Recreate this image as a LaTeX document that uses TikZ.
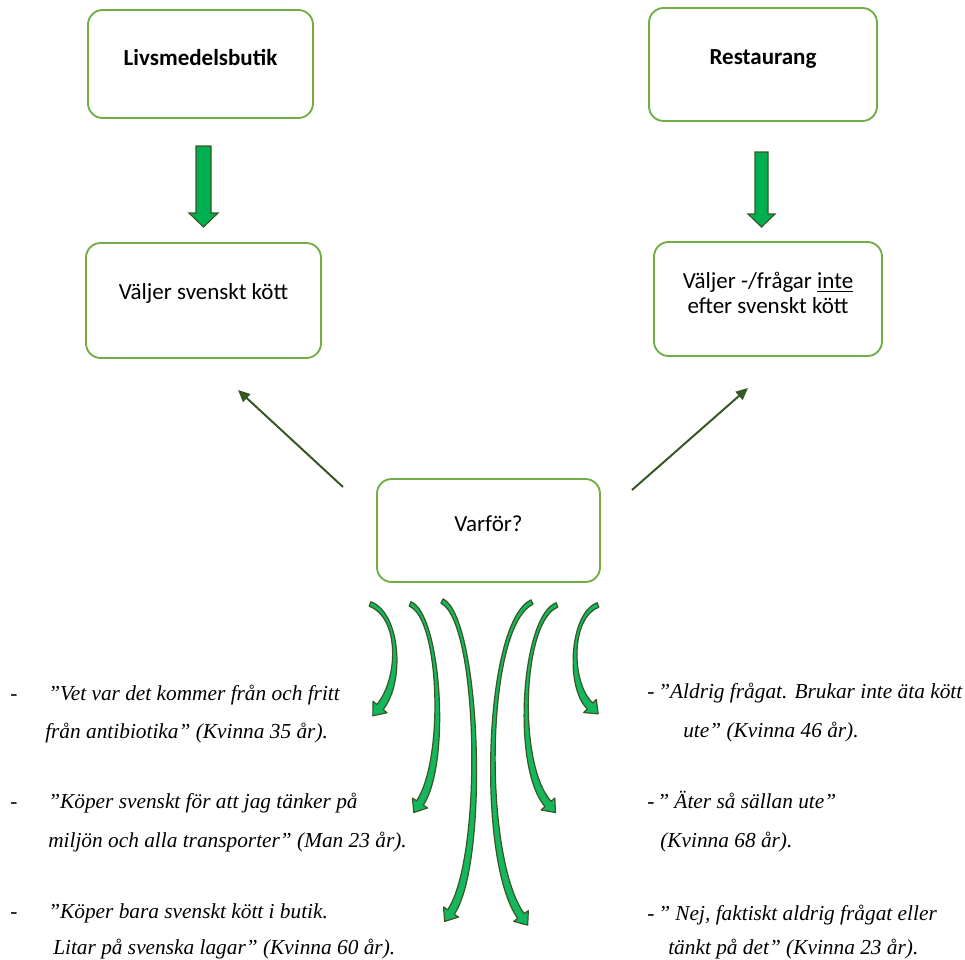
\documentclass[tikz,border=0pt]{standalone}
\usepackage{fontspec}
\setmainfont{Carlito}
\newfontfamily\quotefont{Liberation Serif}
\usetikzlibrary{arrows.meta,calc}

\definecolor{boxgreen}{RGB}{112,173,71}
\definecolor{arrowfill}{RGB}{0,176,80}
\definecolor{arrowline}{RGB}{56,87,35}

\begin{document}
\begin{tikzpicture}[
  x=0.75pt, y=-0.75pt,
  box/.style={draw=boxgreen, line width=1.4pt, rounded corners=11pt,
              inner sep=0pt, outer sep=0pt, align=center,
              font=\fontsize{17.25}{18.75}\selectfont},
  blockarrow/.style={draw=arrowline, line width=0.9pt, fill=arrowfill},
  curvearrow/.style={draw=arrowline, line width=0.9pt, fill=arrowfill!92!white,
                     line join=round},
  thin/.style={draw=arrowline, line width=1.5pt,
               -{Triangle[length=9pt, width=8pt]}},
  quote/.style={anchor=base west, inner sep=0pt,
                font=\quotefont\itshape\fontsize{16}{18}\selectfont}]

\useasboundingbox (0,0) rectangle (965,960);

% ================= boxes ==================================================
\node[box, minimum width=168.75pt, minimum height=81pt] (butik) at (200.5,64)
  {\raisebox{5pt}[\height][\depth]{\textbf{Livsmedelsbutik}}};
\node[box, minimum width=171pt, minimum height=84.75pt] (restaurang) at (763,64.5)
  {\raisebox{4pt}[\height][\depth]{\textbf{Restaurang}}};
\node[box, minimum width=176.25pt, minimum height=86.25pt] (valjer) at (203.5,300.5)
  {\raisebox{5pt}[\height][\depth]{Väljer svenskt kött}};
\node[box, minimum width=171pt, minimum height=85.5pt] (fragar) at (768,299)
  {\raisebox{2pt}[\height][\depth]{\begin{tabular}{@{}c@{}}Väljer -/frågar
     \underline{inte}\\ efter svenskt kött\end{tabular}}};
\node[box, minimum width=167.25pt, minimum height=77.25pt] (varfor) at (488.5,530.5)
  {\raisebox{5pt}[\height][\depth]{Varför?}};

% ================= straight arrows ========================================
% block arrows from the two places down to the choices
\foreach \cx/\ty/\ny/\w/\hw in {203.5/146/213/7.5/14.5, 761.5/152/214/6.5/13.5}
  {\draw[blockarrow] (\cx-\w,\ty) -- (\cx+\w,\ty) -- (\cx+\w,\ny) -- (\cx+\hw,\ny)
     -- (\cx,227) -- (\cx-\hw,\ny) -- (\cx-\w,\ny) -- cycle;}

\coordinate (wl) at (343,487);
\coordinate (wlhead) at (238,390);
\coordinate (wr) at (632,490);
\coordinate (wrhead) at (748,388);
\draw[thin] (wl) -- (wlhead);
\draw[thin] (wr) -- (wrhead);

% ================= curved arrows to the quotes ============================
% start / two controls / neck of each tapered arrow
\foreach \sx/\sy/\ax/\ay/\bx/\by/\ex/\ey in {
    370/604/400/615/402/680/380/707,
    410/604/440/615/448/760/420/803,
    442/601/480/620/486/860/451/912,
    532/602/484/625/480/860/521/916,
    557/605/522/618/514/765/548/804,
    598/605/570/615/568/685/590/706}
{
  \coordinate (s) at (\sx,\sy);
  \coordinate (c1) at (\ax,\ay);
  \coordinate (c2) at (\bx,\by);
  \coordinate (e) at (\ex,\ey);
  \coordinate (t1) at ($(s)!1.8pt!90:(c1)$);
  \coordinate (t2) at ($(s)!1.8pt!-90:(c1)$);
  \coordinate (n1) at ($(e)!3pt!-90:(c2)$);
  \coordinate (n2) at ($(e)!3pt!90:(c2)$);
  \coordinate (h1) at ($(e)!6.8pt!-90:(c2)$);
  \coordinate (h2) at ($(e)!6.8pt!90:(c2)$);
  \coordinate (tip) at ($(e)!-8.5pt!(c2)$);
  \draw[curvearrow] (t1) .. controls ($(c1)+(t1)-(s)$) and ($(c2)+(n1)-(e)$) .. (n1)
    -- (h1) -- (tip) -- (h2) -- (n2)
    .. controls ($(c2)+(n2)-(e)$) and ($(c1)+(t2)-(s)$) .. (t2) -- cycle;
}

% ================= quotes, left ===========================================
\foreach \y/\nm in {700/d1, 808/d2, 918/d3}
  {\node[quote] (\nm) at (10,\y) {-};}
\node[quote] (q1a) at (48,700) {”Vet var det kommer från och fritt};
\node[quote] (q1b) at (45,738) {från antibiotika” (Kvinna 35 år).};
\node[quote] (q2a) at (48,808) {”Köper svenskt för att jag tänker på};
\node[quote] (q2b) at (48,847) {miljön och alla transporter” (Man 23 år).};
\node[quote] (q3a) at (48,918) {”Köper bara svenskt kött i butik.};
\node[quote] (q3b) at (53,954) {Litar på svenska lagar” (Kvinna 60 år).};

% ================= quotes, right ==========================================
\foreach \y/\nm in {698/d4, 808/d5, 920/d6}
  {\node[quote] (\nm) at (647,\y) {-};}
\node[quote] (q4a) at (658,698) {”Aldrig frågat. Brukar inte äta kött};
\node[quote] (q4b) at (683,737) {ute” (Kvinna 46 år).};
\node[quote] (q5a) at (657,808) {” Äter så sällan ute”};
\node[quote] (q5b) at (660,847) {(Kvinna 68 år).};
\node[quote] (q6a) at (658,920) {” Nej, faktiskt aldrig frågat eller};
\node[quote] (q6b) at (668,954) {tänkt på det” (Kvinna 23 år).};

\end{tikzpicture}
\end{document}
